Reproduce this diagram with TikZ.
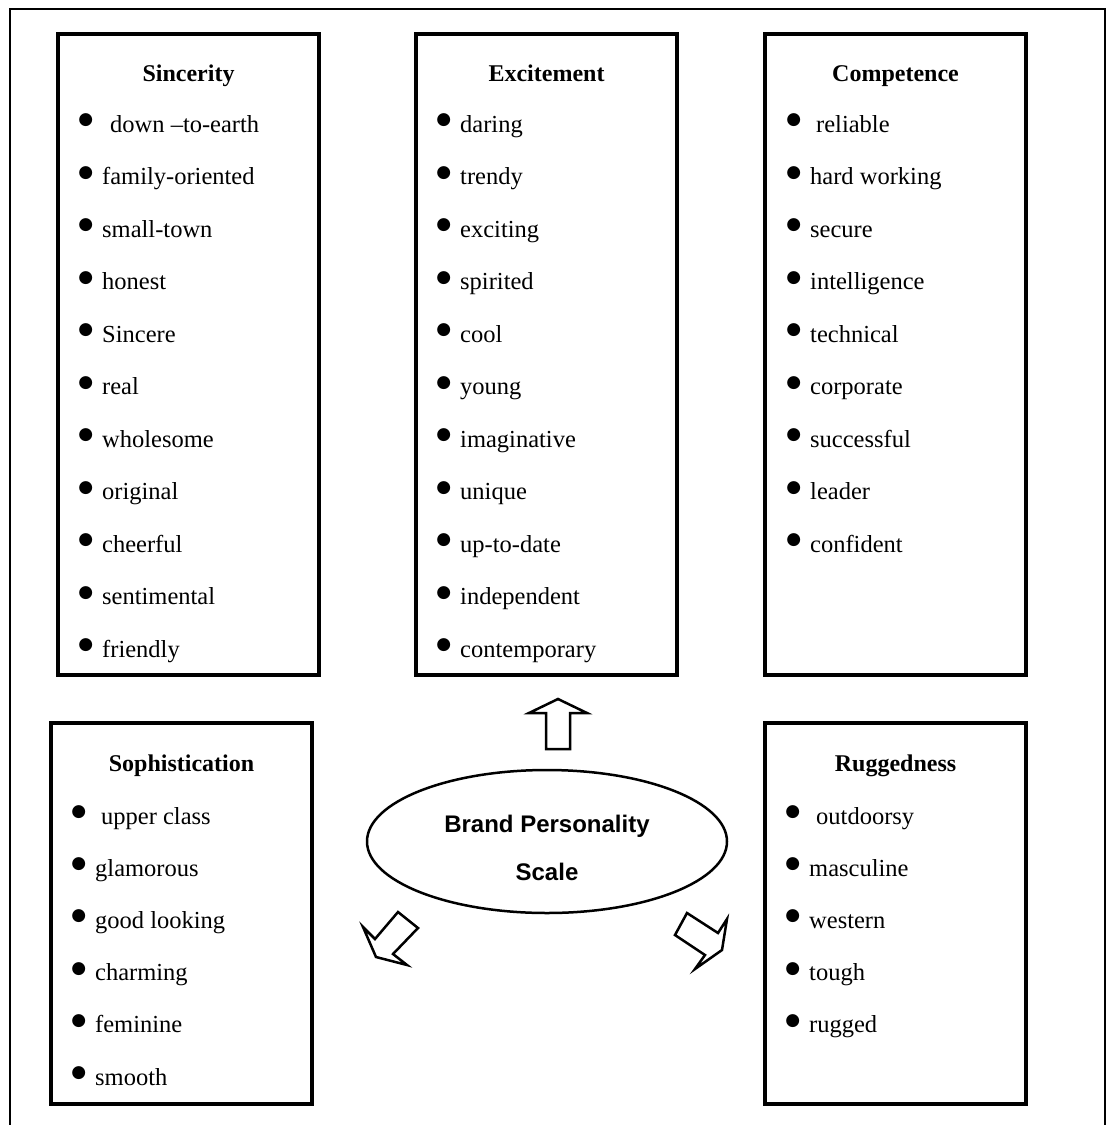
\documentclass[tikz,border=0pt]{standalone}
\usepackage{fontspec}
\setmainfont{Liberation Serif}
\setsansfont{Liberation Sans}
\newfontfamily\symfont{DejaVu Sans}
\usetikzlibrary{shapes.geometric}

\tikzset{
  catbox/.style={draw, line width=3.5pt, minimum width=261, inner sep=0pt},
  cattitle/.style={anchor=base, inner sep=0pt, font=\bfseries\fontsize{24}{28}\selectfont},
  catitem/.style={anchor=base west, inner sep=0pt, font=\fontsize{24.5}{28}\selectfont},
  blockarrow/.style={draw, line width=2.5pt, line join=miter, fill=white},
}
\newcommand{\bul}{\llap{\raisebox{7.5pt}{\symfont\fontsize{17}{17}\selectfont ●}\hspace{9pt}}}

\begin{document}
\begin{tikzpicture}[x=1pt, y=-1pt]
  \useasboundingbox (0,0) rectangle (1109,1125);

  %% outer frame
  \draw[line width=2pt] (10,1125) -- (10,9) -- (1105,9) -- (1105,1125);

  %% category boxes
  \node[catbox, minimum height=641] (sincerity)  at (188.5,354.5) {};
  \node[catbox, minimum height=641] (excitement) at (546.5,354.5) {};
  \node[catbox, minimum height=641] (competence) at (895.5,354.5) {};
  \node[catbox, minimum height=381] (sophist)    at (181.5,913.5) {};
  \node[catbox, minimum height=381] (rugged)     at (895.5,913.5) {};

  \node[cattitle] (sin-title) at (188.5,81)  {Sincerity};
  \node[cattitle] (exc-title) at (546.5,81)  {Excitement};
  \node[cattitle] (com-title) at (895.5,81)  {Competence};
  \node[cattitle] (sop-title) at (181.5,771) {Sophistication};
  \node[cattitle] (rug-title) at (895.5,771) {Ruggedness};

  %% traits
  \foreach \txt [count=\i from 0] in {{\hspace{8pt}down --to-earth}, family-oriented, small-town, honest, Sincere, real, wholesome, original, cheerful, sentimental, friendly}
    \node[catitem] (sin-\i) at (102,132+52.5*\i) {\bul\txt};
  \foreach \txt [count=\i from 0] in {daring, trendy, exciting, spirited, cool, young, imaginative, unique, up-to-date, independent, contemporary}
    \node[catitem] (exc-\i) at (460,132+52.5*\i) {\bul\txt};
  \foreach \txt [count=\i from 0] in {{\hspace{6pt}reliable}, hard working, secure, intelligence, technical, corporate, successful, leader, confident}
    \node[catitem] (com-\i) at (810,132+52.5*\i) {\bul\txt};
  \foreach \txt [count=\i from 0] in {{\hspace{6pt}upper class}, glamorous, good looking, charming, feminine, smooth}
    \node[catitem] (sop-\i) at (95,824+52.2*\i) {\bul\txt};
  \foreach \txt [count=\i from 0] in {{\hspace{7pt}outdoorsy}, masculine, western, tough, rugged}
    \node[catitem] (rug-\i) at (809,824+52.2*\i) {\bul\txt};

  %% centre
  \node[draw, ellipse, line width=2.5pt, minimum width=360, minimum height=143, inner sep=0pt] (bps) at (547,841.5) {};
  \node[align=center, inner sep=0pt, font=\sffamily\bfseries\fontsize{24}{48}\selectfont] (bps-text) at (547,848) {Brand Personality\\Scale};

  %% block arrows
  \draw[blockarrow] (546,749) -- (546,713) -- (529,713) -- (558,699) -- (587,713) -- (570,713) -- (570,749) -- cycle;
  \draw[blockarrow] (398,912) -- (418,928) -- (393,954) -- (407,965) -- (376,957) -- (363,927) -- (375,939) -- cycle;
  \draw[blockarrow] (687,913) -- (718,933) -- (727,919) -- (722,950) -- (695,969) -- (705,955) -- (675,935) -- cycle;
\end{tikzpicture}
\end{document}
